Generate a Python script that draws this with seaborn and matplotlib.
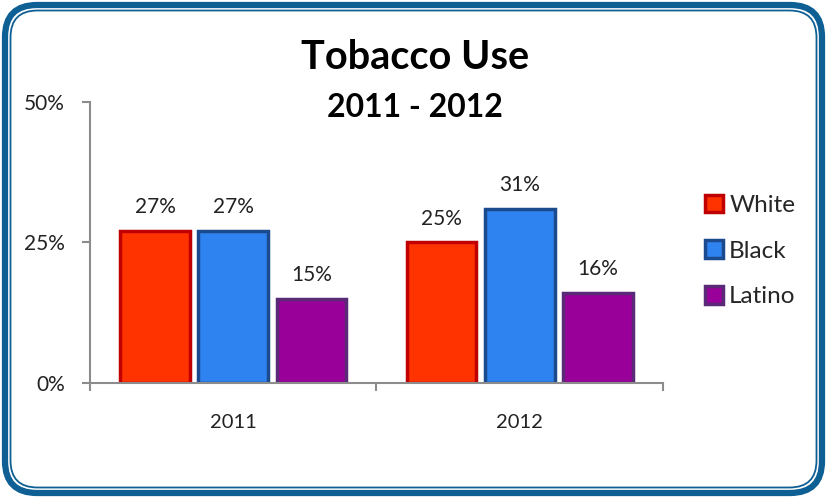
import matplotlib
matplotlib.use("Agg")
import matplotlib.pyplot as plt
import seaborn as sns
import pandas as pd
from matplotlib.patches import FancyBboxPatch, Patch
from matplotlib.transforms import IdentityTransform
from matplotlib.ticker import FuncFormatter

years = ["2011", "2012"]
groups = ["White", "Black", "Latino"]
white = [27, 25]
black = [27, 31]
latino = [15, 16]

fills = {"White": "#ff3300", "Black": "#2e83f0", "Latino": "#990099"}
edges = {"White": "#c00000", "Black": "#1b4a8e", "Latino": "#5a2a78"}

df = pd.DataFrame({
    "year": years * 3,
    "group": ["White"] * 2 + ["Black"] * 2 + ["Latino"] * 2,
    "value": white + black + latino,
})

sns.set_style("white")
plt.rcParams["font.family"] = ["Lato", "DejaVu Sans"]

fig = plt.figure(figsize=(8.27, 4.98), dpi=100)
ax = fig.add_axes([90 / 827, 115 / 498, 573 / 827, 281 / 498])

sns.barplot(data=df, x="year", y="value", hue="group", order=years,
    hue_order=groups, palette=fills, saturation=1, width=0.82, gap=0.11,
    linewidth=2.5, legend=False, ax=ax)

for cont, g in zip(ax.containers, groups):
    for bar in cont:
        bar.set_edgecolor(edges[g])
    ax.bar_label(cont, fmt="%d%%", padding=10, fontsize=15, color="#222222")

ax.set_xlim(-0.5, 1.5)
ax.set_ylim(0, 50)
ax.set_yticks([0, 25, 50])
ax.yaxis.set_major_formatter(FuncFormatter(lambda v, p: f"{v:.0f}%"))
ax.set_xticks([-0.5, 0.5, 1.5], minor=True)
ax.tick_params(axis="x", which="major", length=0, pad=22, labelsize=14.5,
    labelcolor="#222222")
ax.tick_params(axis="x", which="minor", length=6, width=1.5, color="#8c8c8c",
    direction="out", bottom=True)
ax.tick_params(axis="y", length=6, width=1.5, color="#8c8c8c", pad=12,
    labelsize=15, labelcolor="#222222", left=True)
ax.set_xlabel("")
ax.set_ylabel("")
for s in ["top", "right"]:
    ax.spines[s].set_visible(False)
for s in ["left", "bottom"]:
    ax.spines[s].set_color("#8c8c8c")
    ax.spines[s].set_linewidth(1.5)

fig.text(0.502, 0.885, "Tobacco Use", ha="center", va="center",
    fontsize=28.5, fontweight="bold", color="black")
fig.text(0.502, 0.785, "2011 - 2012", ha="center", va="center",
    fontsize=23, fontweight="bold", color="black")

handles = [Patch(facecolor=fills[g], edgecolor=edges[g], linewidth=2.5)
    for g in groups]
fig.legend(handles, groups, loc="center left",
    bbox_to_anchor=(683 / 827, 1 - 251 / 498), frameon=False,
    fontsize=17.5, handlelength=0.75, handleheight=0.75, handletextpad=0.25,
    labelspacing=1.0)

# double rounded border
fig.patches.append(FancyBboxPatch((5, 5), 817, 488,
    boxstyle="round,pad=0,rounding_size=32", transform=IdentityTransform(),
    facecolor="none", edgecolor="#0d5f94", linewidth=4.5))
fig.patches.append(FancyBboxPatch((10.5, 10.5), 806, 477,
    boxstyle="round,pad=0,rounding_size=27", transform=IdentityTransform(),
    facecolor="none", edgecolor="#0d5f94", linewidth=1.3))

fig.savefig("out.png", dpi=100)
